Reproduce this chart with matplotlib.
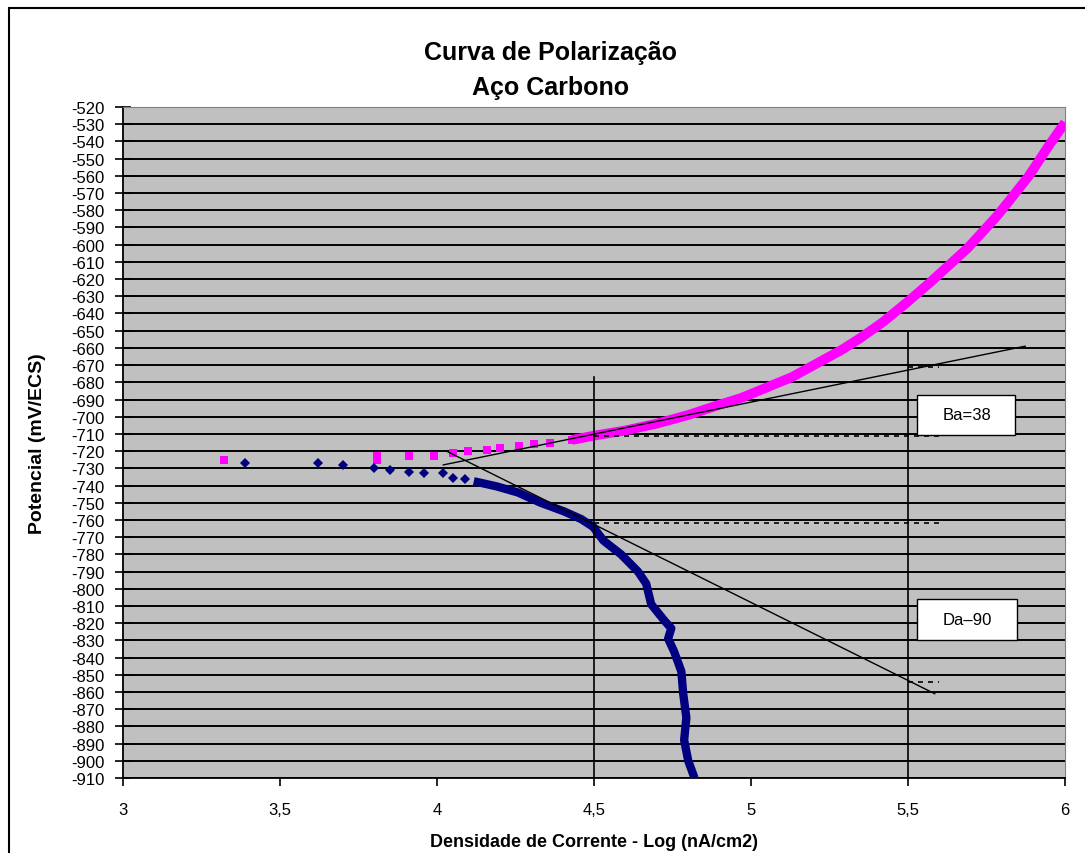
import numpy as np
import matplotlib
matplotlib.use("Agg")
import matplotlib.pyplot as plt
from matplotlib.patches import Rectangle

plt.rcParams['font.family'] = ['Liberation Sans', 'DejaVu Sans']
plt.rcParams['axes.unicode_minus'] = False

# anodic branch (magenta) - sparse points near Ecorr, then dense band
anod_x_pts = [3.32, 3.81, 3.81, 3.91, 3.99, 4.05, 4.10, 4.16, 4.20, 4.26, 4.31, 4.36, 4.43]
anod_e_pts = [-725, -725, -723, -723, -723, -721, -720, -719.5, -718, -717, -716, -715.5, -713.5]
anod_x = [4.43, 4.50, 4.60, 4.70, 4.80, 4.90, 4.97, 5.05, 5.13, 5.21, 5.29, 5.35, 5.42,
          5.50, 5.57, 5.63, 5.69, 5.735, 5.78, 5.82, 5.885, 5.95, 6.00]
anod_e = [-713.5, -711, -708, -704, -699, -693, -689, -683, -677, -669, -661, -654, -645,
          -633, -622, -612, -602, -593, -584, -575, -560, -542, -529]

# cathodic branch (navy)
cat_x_pts = [3.39, 3.62, 3.70, 3.80, 3.85, 3.91, 3.96, 4.02, 4.05, 4.09]
cat_e_pts = [-727, -727, -728, -730, -731, -732, -733, -733, -735.5, -736]
cat_x = [4.117, 4.19, 4.257, 4.33, 4.404, 4.459, 4.497, 4.53, 4.586, 4.64, 4.666, 4.682,
         4.724, 4.746, 4.736, 4.755, 4.778, 4.784, 4.794, 4.787, 4.80, 4.82]
cat_e = [-737.5, -740.5, -744, -750, -755, -759.5, -764, -772, -780, -790, -797, -809,
         -818.5, -823, -829, -836.5, -848, -861, -875, -888, -900, -910]

# Tafel lines and construction lines
tafel_a_x = [4.02, 5.873]
tafel_a_e = [-728, -659]
tafel_c_x = [4.03, 5.585]
tafel_c_e = [-720, -861]
vlines_x = [4.5, 5.5]
vlines_top = [-677, -651]
dash_e = [-711, -762]
dash_short_e = [-671, -854]

yticks = list(range(-520, -911, -10))
xticks = [3, 3.5, 4, 4.5, 5, 5.5, 6]
xticklabels = ['3', '3,5', '4', '4,5', '5', '5,5', '6']

fig = plt.figure(figsize=(10.85, 8.54), dpi=100)
ax = fig.add_axes([0.1134, 0.0878, 0.8682, 0.7857])
ax.set_facecolor('#C0C0C0')

for e in yticks:
    ax.axhline(e, color='black', lw=1.4, zorder=1)

ax.plot(anod_x_pts, anod_e_pts, 's', color='#FF00FF', ms=5.5, mew=0, zorder=4)
ax.plot(anod_x, anod_e, '-', color='#FF00FF', lw=7, solid_capstyle='butt', zorder=4)
ax.plot(cat_x_pts, cat_e_pts, 'D', color='#000080', ms=5, mew=0, zorder=4)
ax.plot(cat_x, cat_e, '-', color='#000080', lw=6, solid_capstyle='butt', zorder=4)

ax.plot(tafel_a_x, tafel_a_e, color='black', lw=1, zorder=5)
ax.plot(tafel_c_x, tafel_c_e, color='black', lw=1, zorder=5)
for xv, top in zip(vlines_x, vlines_top):
    ax.plot([xv, xv], [top, -910], color='black', lw=1.2, zorder=5)
for e in dash_e:
    ax.plot([4.5, 5.6], [e, e], color='black', lw=1.2, ls=(0, (3, 3)), zorder=5)
for e in dash_short_e:
    ax.plot([5.5, 5.6], [e, e], color='black', lw=1.2, ls=(0, (3, 3)), zorder=5)

# label boxes
ax.add_patch(Rectangle((5.528, -710.5), 0.313, 23, fc='white', ec='black', lw=1, zorder=6))
ax.add_patch(Rectangle((5.528, -830), 0.319, 24, fc='white', ec='black', lw=1, zorder=6))
ax.text(5.687, -698.5, 'Ba=38', ha='center', va='center', fontsize=12, zorder=7)
ax.text(5.69, -818, 'Da\u201390', ha='center', va='center', fontsize=12, zorder=7)

ax.set_xlim(3, 6)
ax.set_ylim(-910, -520)
ax.set_xticks(xticks)
ax.set_xticklabels(xticklabels)
ax.set_yticks(yticks)
ax.tick_params(axis='y', direction='inout', length=11, width=1.2, labelsize=12, pad=8)
ax.tick_params(axis='x', direction='out', length=6, width=1.2, labelsize=12, pad=11)
for s in ['top', 'right']:
    ax.spines[s].set_color('#808080')
for s in ['left', 'bottom']:
    ax.spines[s].set_linewidth(1.3)

ax.set_xlabel('Densidade de Corrente - Log (nA/cm2)', fontsize=13, fontweight='bold', labelpad=12)
ax.set_ylabel('Potencial (mV/ECS)', fontsize=14, fontweight='bold', labelpad=18)
fig.text(0.507, 0.938, 'Curva de Polarização', ha='center', va='center', fontsize=18, fontweight='bold')
fig.text(0.507, 0.897, 'Aço Carbono', ha='center', va='center', fontsize=18, fontweight='bold')

# chart frame (top and left edges visible; right/bottom fall outside the picture)
fig.patches.append(Rectangle((0.0085, -0.1), 1.1, 1.0895, transform=fig.transFigure,
                             fill=False, ec='black', lw=1.5))

fig.savefig('out.png', dpi=100)
